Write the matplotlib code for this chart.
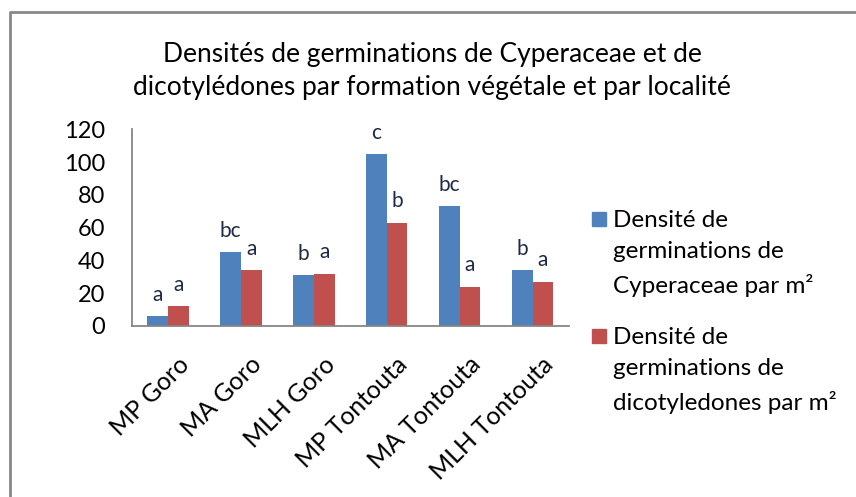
import matplotlib.pyplot as plt
import matplotlib.patches as mpatches
import matplotlib.transforms as mtrans
import numpy as np

plt.rcParams['font.family'] = ['Lato', 'DejaVu Sans']

# values
sites = ["MP Goro", "MA Goro", "MLH Goro", "MP Tontouta", "MA Tontouta", "MLH Tontouta"]
cyperaceae = [6, 45, 31, 105, 73, 34]
dicot = [12, 34, 32, 63, 24, 27]
cyp_letters = ["a", "bc", "b", "c", "bc", "b"]
dicot_letters = ["a", "a", "a", "b", "a", "a"]

legend_labels = ["Densité de\ngerminations de\nCyperaceae par m²",
                 "Densité de\ngerminations de\ndicotyledones par m²"]
title = "Densités de germinations de Cyperaceae et de\ndicotylédones par formation végétale et par localité"

blue = "#4F81BD"
red = "#C0504D"

W, H = 856, 497
fig = plt.figure(figsize=(W / 100, H / 100), dpi=100)
ax = fig.add_axes([131.7 / W, 1 - 326 / H, (569 - 131.7) / W, (326 - 129.3) / H])

x = np.arange(len(sites))
bw = 0.284
b1 = ax.bar(x - bw / 2, cyperaceae, bw, color=blue, label=legend_labels[0])
b2 = ax.bar(x + bw / 2, dicot, bw, color=red, label=legend_labels[1])

# significance letters above bars
for bars, letters in [(b1, cyp_letters), (b2, dicot_letters)]:
    for rect, let in zip(bars, letters):
        ax.annotate(let, (rect.get_x() + rect.get_width() / 2, rect.get_height()),
                    xytext=(0, 11), textcoords="offset points",
                    ha="center", va="baseline", fontsize=15, color="#1F2A44")

ax.set_xlim(-0.5, len(sites) - 0.5)
ax.set_ylim(0, 120)
ax.set_yticks(range(0, 121, 20))
ax.tick_params(axis="y", length=0, pad=19, labelsize=17)
ax.tick_params(axis="x", length=0, pad=4)
ax.set_xticks(x)
ax.set_xticklabels(sites, rotation=45, ha="right", rotation_mode="anchor", fontsize=18)
offset = mtrans.ScaledTranslation(9 / 100, -21 / 100, fig.dpi_scale_trans)
for lab in ax.get_xticklabels():
    lab.set_transform(lab.get_transform() + offset)

for side in ["top", "right"]:
    ax.spines[side].set_visible(False)
for side in ["left", "bottom"]:
    ax.spines[side].set_color("#868686")
    ax.spines[side].set_linewidth(1.3)

fig.text(432 / W, 1 - 71 / H, title, ha="center", va="center",
         fontsize=19, linespacing=1.42)

# legend drawn by hand so the square sits on the first line like in Excel
for i, (lab, col) in enumerate(zip(legend_labels, [blue, red])):
    top = 212 + i * 117
    fig.patches.append(mpatches.Rectangle((592 / W, 1 - (top + 14) / H), 14 / W, 14 / H,
                                          transform=fig.transFigure, color=col))
    fig.text(613 / W, 1 - (top - 2) / H, lab, ha="left", va="top",
             fontsize=17.5, linespacing=1.6)

# chart frame
fig.add_artist(plt.Line2D([10 / W, 10 / W, 1], [0, 1 - 11.5 / H, 1 - 11.5 / H],
                          transform=fig.transFigure, color="#888888", linewidth=2))

fig.savefig("out.png", dpi=100)
